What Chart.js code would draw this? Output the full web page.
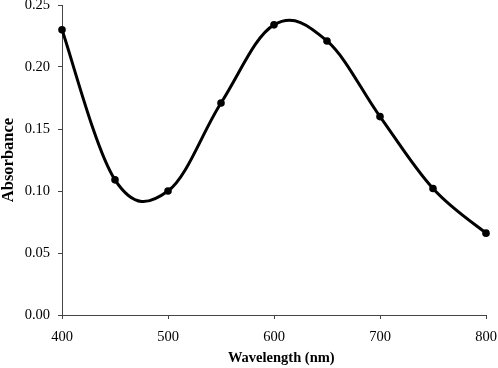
<!DOCTYPE html>
<html>
<head>
<meta charset="utf-8">
<script src="https://cdn.jsdelivr.net/npm/chart.js@4/dist/chart.umd.min.js"></script>
<style>
  html, body { margin: 0; padding: 0; background: #fff; }
  #wrap { width: 498px; height: 368px; }
</style>
</head>
<body>
<div id="wrap"><canvas id="myChart" width="498" height="368"></canvas></div>
<script>
// values
var wavelength = [400, 450, 500, 550, 600, 650, 700, 750, 800];
var absorbance = [0.230, 0.109, 0.100, 0.171, 0.234, 0.221, 0.160, 0.102, 0.066];
var xTicks = [400, 500, 600, 700, 800];
var yTicks = [0.00, 0.05, 0.10, 0.15, 0.20, 0.25];

var points = wavelength.map(function (w, i) { return { x: w, y: absorbance[i] }; });
var serif = '"Liberation Serif", "Times New Roman", serif';

// smooth line like a spreadsheet "smoothed line" (Catmull-Rom through the point pixels)
var smoothLine = {
  id: 'smoothLine',
  beforeDatasetsDraw: function (chart) {
    var pts = chart.getDatasetMeta(0).data;
    var c = chart.ctx;
    var k = 0.18;
    c.save();
    c.strokeStyle = '#000';
    c.lineWidth = 3;
    c.lineJoin = 'round';
    c.lineCap = 'round';
    c.beginPath();
    c.moveTo(pts[0].x, pts[0].y);
    for (var i = 0; i < pts.length - 1; i++) {
      var p0 = pts[Math.max(i - 1, 0)];
      var p1 = pts[i];
      var p2 = pts[i + 1];
      var p3 = pts[Math.min(i + 2, pts.length - 1)];
      c.bezierCurveTo(
        p1.x + (p2.x - p0.x) * k, p1.y + (p2.y - p0.y) * k,
        p2.x - (p3.x - p1.x) * k, p2.y - (p3.y - p1.y) * k,
        p2.x, p2.y
      );
    }
    c.stroke();
    c.restore();
  }
};

var ctx = document.getElementById('myChart').getContext('2d');

var myChart = new Chart(ctx, {
  type: 'scatter',
  data: {
    datasets: [{
      label: 'Absorbance',
      data: points,
      showLine: false,
      clip: false,
      pointRadius: 3.8,
      pointBackgroundColor: '#000',
      pointBorderWidth: 0
    }]
  },
  options: {
    responsive: false,
    animation: false,
    layout: { padding: 0 },
    plugins: {
      legend: { display: false },
      tooltip: { enabled: false }
    },
    scales: {
      x: {
        type: 'linear',
        min: 400,
        max: 800,
        afterBuildTicks: function (axis) {
          axis.ticks = xTicks.map(function (v) { return { value: v }; });
        },
        afterFit: function (axis) {
          axis.height = 53;
          axis.paddingLeft = 0;
          axis.paddingRight = 12;
        },
        grid: { drawOnChartArea: false, tickLength: 4, color: '#444' },
        border: { color: '#444', width: 1 },
        ticks: { color: '#000', padding: 9, maxRotation: 0, font: { family: serif, size: 14.5 } },
        title: {
          display: true,
          text: '    Wavelength (nm)',
          color: '#000',
          padding: { top: 2, bottom: 1 },
          font: { family: serif, size: 14.5, weight: 'bold' }
        }
      },
      y: {
        min: 0,
        max: 0.25,
        afterBuildTicks: function (axis) {
          axis.ticks = yTicks.map(function (v) { return { value: v }; });
        },
        afterFit: function (axis) {
          axis.width = 62;
          axis.paddingTop = 5;
          axis.paddingBottom = 0;
        },
        grid: { drawOnChartArea: false, tickLength: 4, color: '#444' },
        border: { color: '#444', width: 1 },
        ticks: {
          color: '#000',
          padding: 8,
          font: { family: serif, size: 14.5 },
          callback: function (v) { return v.toFixed(2); }
        },
        title: {
          display: true,
          text: 'Absorbance',
          color: '#000',
          padding: { top: 0, bottom: 0 },
          font: { family: serif, size: 16.5, weight: 'bold', lineHeight: 1 }
        }
      }
    }
  },
  plugins: [smoothLine]
});
</script>
</body>
</html>
